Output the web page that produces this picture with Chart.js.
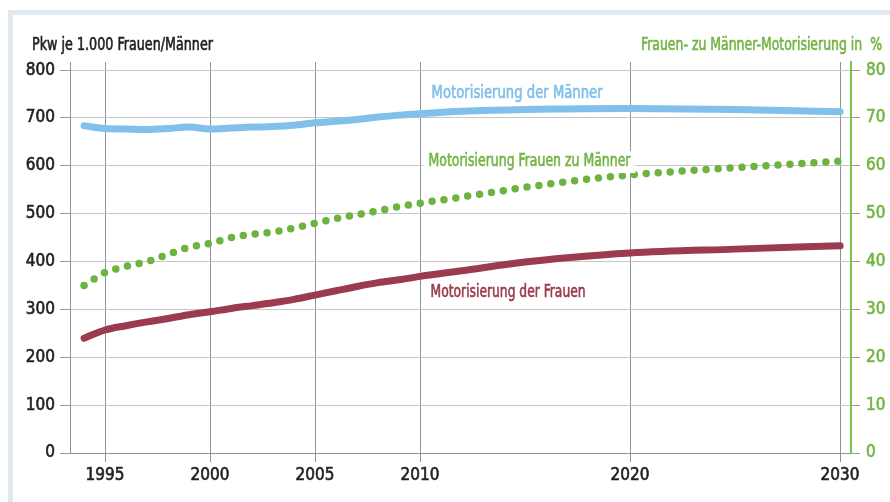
<!DOCTYPE html>
<html lang="de">
<head>
    <meta charset="UTF-8">
    <title>Motorisierung Frauen / Männer</title>
    <script src="https://cdn.jsdelivr.net/npm/chart.js"></script>
    <style>
        html, body {
            margin: 0;
            padding: 0;
            background: #fff;
            overflow: hidden;
        }
        #frame {
            position: absolute;
            left: 8px;
            top: 10px;
            width: 890px;
            height: 500px;
            border-top: 5px solid #e0e9ef;
            border-left: 5px solid #e0e9ef;
        }
        #chart-container {
            position: absolute;
            left: 0;
            top: 0;
            width: 890px;
            height: 502px;
        }
    </style>
</head>
<body>
    <div id="frame"></div>
    <div id="chart-container">
        <canvas id="chart" width="890" height="502"></canvas>
    </div>
    <script type="text/javascript">
        // values
        var years = [1994, 1995, 1996, 1997, 1998, 1999, 2000, 2001, 2002, 2003, 2004, 2005,
                     2006, 2007, 2008, 2009, 2010, 2012, 2015, 2017, 2020, 2025, 2030];
        var men = [684, 678, 677, 676, 678, 681, 677, 679, 681, 682, 685, 690,
                   693, 697, 702, 706, 709, 714, 718, 719, 720, 718, 713];
        var women = [240, 257, 266, 274, 281, 289, 295, 302, 308, 314, 321, 330,
                     339, 348, 356, 362, 369, 381, 399, 408, 418, 426, 433];
        var ratio = [35.0, 37.7, 39.0, 40.0, 41.5, 43.0, 43.8, 45.0, 45.7, 46.2, 47.0, 48.0,
                     49.0, 49.8, 50.6, 51.5, 52.2, 53.5, 55.5, 56.7, 58.1, 59.6, 61.0];
        var xTicks = [1995, 2000, 2005, 2010, 2020, 2030];
        var leftTicks = [0, 100, 200, 300, 400, 500, 600, 700, 800];
        var rightTicks = [0, 10, 20, 30, 40, 50, 60, 70, 80];

        var FONT = "'Liberation Sans Narrow', 'DejaVu Sans Condensed', sans-serif";
        var BLUE = '#80c0ea';
        var RED = '#9c3a4f';
        var GREEN = '#6cb43f';
        var GREEN_TXT = '#74b444';
        var DARK = '#231f20';
        var STROKE = 0.6;   // fakes the medium weight of the original face

        Chart.defaults.font.family = FONT;
        Chart.defaults.font.size = 17;

        function pairs(vals) {
            return years.map(function (y, i) { return { x: y, y: vals[i] }; });
        }

        // draw text squeezed to a given width (the original face is very condensed)
        function squeezed(ctx, text, x, y, align, width) {
            var sx = width / ctx.measureText(text).width;
            var left = align === 'right' ? x - width : x;
            ctx.save();
            ctx.translate(left, y);
            ctx.scale(sx, 1);
            ctx.textAlign = 'left';
            ctx.strokeStyle = ctx.fillStyle;
            ctx.lineWidth = STROKE;
            ctx.strokeText(text, 0, 0);
            ctx.fillText(text, 0, 0);
            ctx.restore();
            return width;
        }

        var textPlugin = {
            id: 'texts',
            afterDatasetsDraw: function (chart) {
                var ctx = chart.ctx;
                var xs = chart.scales.x, ys = chart.scales.y;
                ctx.save();
                ctx.font = '17px ' + FONT;

                // axis titles
                ctx.textBaseline = 'alphabetic';
                ctx.fillStyle = DARK;
                squeezed(ctx, 'Pkw je 1.000 Frauen/Männer', 32, 50, 'left', 181);
                ctx.fillStyle = GREEN_TXT;
                squeezed(ctx, 'Frauen- zu Männer-Motorisierung in  %', 882, 50, 'right', 241);

                // series labels
                ctx.textBaseline = 'middle';
                ctx.fillStyle = BLUE;
                squeezed(ctx, 'Motorisierung der Männer', xs.getPixelForValue(2010.55), ys.getPixelForValue(752), 'left', 171);

                var gx = xs.getPixelForValue(2010.4), gy = ys.getPixelForValue(608);
                ctx.fillStyle = '#fff';
                ctx.fillRect(gx - 5, gy - 11, 212, 22);
                ctx.fillStyle = GREEN_TXT;
                squeezed(ctx, 'Motorisierung Frauen zu Männer', gx, gy, 'left', 202);

                ctx.fillStyle = RED;
                squeezed(ctx, 'Motorisierung der Frauen', xs.getPixelForValue(2010.5), ys.getPixelForValue(336), 'left', 155);
                ctx.restore();
            }
        };

        var ctx = document.getElementById('chart').getContext('2d');
        var chart = new Chart(ctx, {
            type: 'line',
            data: {
                datasets: [{
                    label: 'Motorisierung der Männer',
                    data: pairs(men),
                    yAxisID: 'y',
                    borderColor: BLUE,
                    borderWidth: 7,
                    borderCapStyle: 'round',
                    cubicInterpolationMode: 'monotone',
                    pointRadius: 0
                }, {
                    label: 'Motorisierung der Frauen',
                    data: pairs(women),
                    yAxisID: 'y',
                    borderColor: RED,
                    borderWidth: 7,
                    borderCapStyle: 'round',
                    cubicInterpolationMode: 'monotone',
                    pointRadius: 0
                }, {
                    label: 'Motorisierung Frauen zu Männer',
                    data: pairs(ratio),
                    yAxisID: 'y1',
                    borderColor: GREEN,
                    borderWidth: 7.5,
                    borderDash: [0, 12],
                    borderCapStyle: 'round',
                    cubicInterpolationMode: 'monotone',
                    pointRadius: 0
                }]
            },
            options: {
                responsive: false,
                animation: false,
                devicePixelRatio: 1,
                layout: { padding: { top: 62, left: 0, right: 0, bottom: 0 } },
                plugins: {
                    legend: { display: false },
                    tooltip: { enabled: false }
                },
                scales: {
                    x: {
                        type: 'linear',
                        min: 1993.33,
                        max: 2030.52,
                        afterBuildTicks: function (s) { s.ticks = xTicks.map(function (v) { return { value: v }; }); },
                        afterFit: function (s) { s.height = 49; },
                        grid: { color: '#8f9197', tickLength: 9 },
                        border: { color: '#8f9197' },
                        ticks: {
                            color: DARK,
                            textStrokeColor: DARK,
                            textStrokeWidth: STROKE,
                            padding: 3,
                            maxRotation: 0,
                            autoSkip: false,
                            callback: function (v) { return String(v); }
                        }
                    },
                    y: {
                        position: 'left',
                        min: 0,
                        max: 817,
                        afterBuildTicks: function (s) { s.ticks = leftTicks.map(function (v) { return { value: v }; }); },
                        afterFit: function (s) { s.width = 70; },
                        grid: { color: '#c4c5c8', tickColor: '#9a9ca0', tickLength: 10 },
                        border: { color: '#8f9197' },
                        ticks: {
                            color: DARK,
                            textStrokeColor: DARK,
                            textStrokeWidth: STROKE,
                            padding: 5,
                            callback: function (v) { return String(v); }
                        }
                    },
                    y1: {
                        position: 'right',
                        min: 0,
                        max: 81.7,
                        afterBuildTicks: function (s) { s.ticks = rightTicks.map(function (v) { return { value: v }; }); },
                        afterFit: function (s) { s.width = 39; },
                        grid: { drawOnChartArea: false, color: '#9a9ca0', tickLength: 9 },
                        border: { color: '#7cc04e', width: 2 },
                        ticks: {
                            color: GREEN_TXT,
                            textStrokeColor: GREEN_TXT,
                            textStrokeWidth: STROKE,
                            padding: 6,
                            callback: function (v) { return String(v); }
                        }
                    }
                }
            },
            plugins: [textPlugin]
        });
    </script>
</body>
</html>
